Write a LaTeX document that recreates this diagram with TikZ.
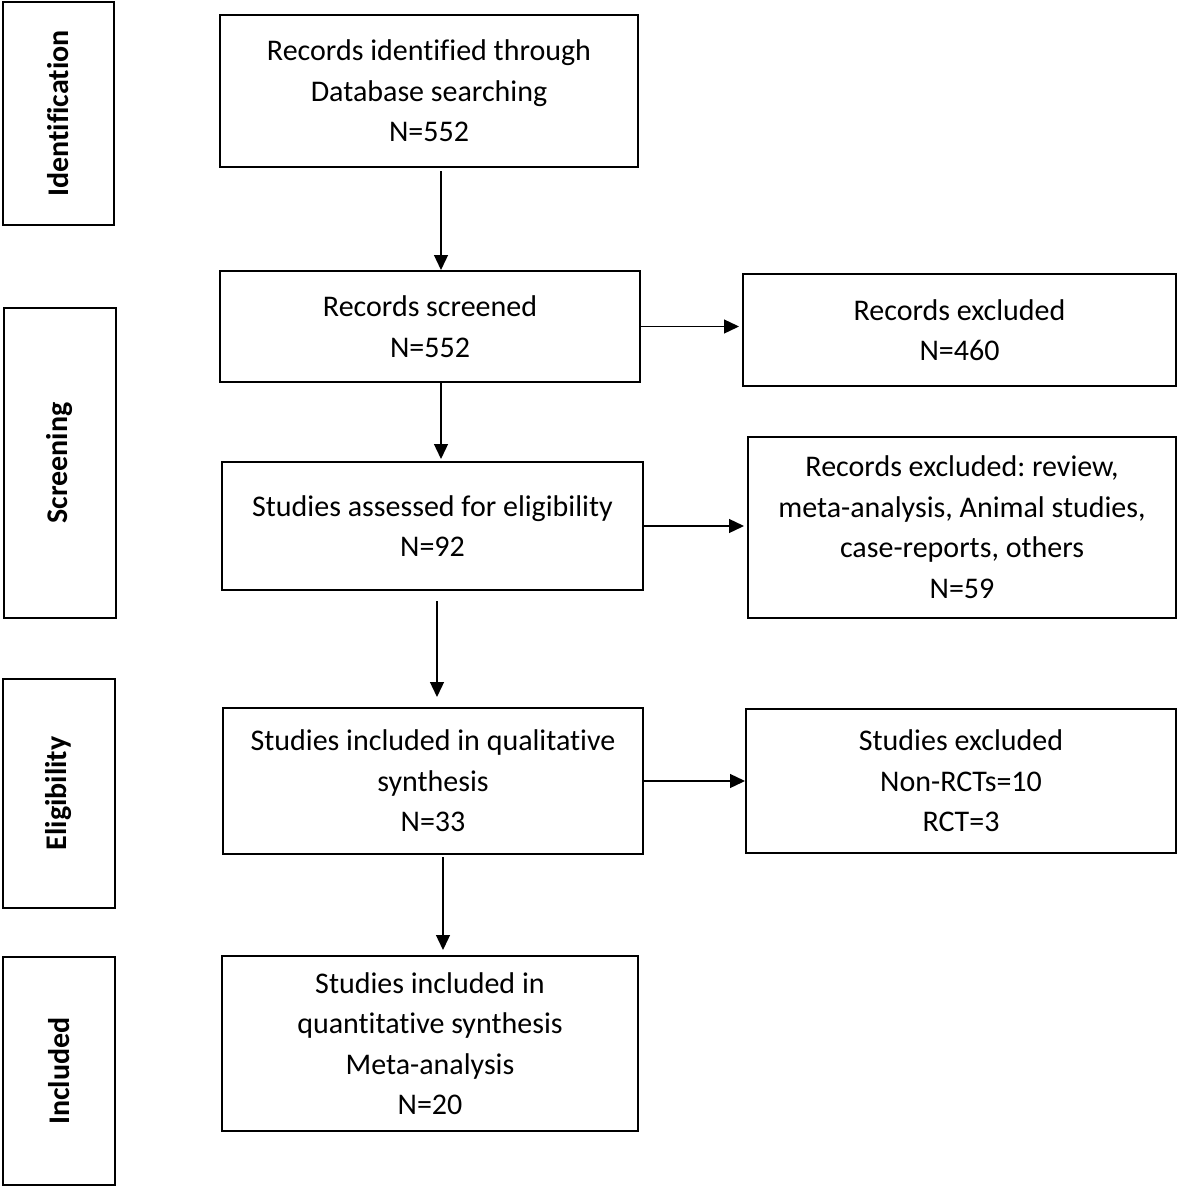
\documentclass[tikz,border=0pt]{standalone}
\usepackage{fontspec}
\setmainfont{Carlito}[Ligatures=NoCommon]
\frenchspacing
\usetikzlibrary{arrows.meta,calc}
\begin{document}
\begin{tikzpicture}[x=1pt,y=-1pt,
  mainbox/.style={draw=black,line width=2pt,align=center,inner sep=0pt,
    font=\fontsize{30}{40.5}\selectfont},
  stagebox/.style={draw=black,line width=2pt,inner sep=0pt},
  stagelabel/.style={rotate=90,font=\fontsize{30}{36}\selectfont\bfseries},
  conn/.style={line width=1.3pt,-{Triangle[length=15pt,width=14pt]}}]
\useasboundingbox (0,0) rectangle (1180,1188);
% stage boxes
\node[stagebox,minimum width=111pt,minimum height=223pt] (s1) at (58.5,113.5) {};
\node[stagelabel] (l1) at (s1.center) {Identification};
\node[stagebox,minimum width=112pt,minimum height=310pt] (s2) at (60,463) {};
\node[stagelabel] (l2) at (s2.center) {Screening};
\node[stagebox,minimum width=112pt,minimum height=229pt] (s3) at (59,793.5) {};
\node[stagelabel] (l3) at (s3.center) {Eligibility};
\node[stagebox,minimum width=112pt,minimum height=228pt] (s4) at (59,1071) {};
\node[stagelabel] (l4) at (s4.center) {Included};
% main boxes
\node[mainbox,minimum width=418pt,minimum height=152pt] (b1) at (429,91)
  {Records identified through\\Database searching\\N=552};
\node[mainbox,minimum width=420pt,minimum height=111pt] (b2) at (430,326.5)
  {Records screened\\N=552};
\node[mainbox,minimum width=421pt,minimum height=128pt] (b3) at (432.5,526)
  {Studies assessed for eligibility\\N=92};
\node[mainbox,minimum width=420pt,minimum height=146pt] (b4) at (433,781)
  {Studies included in qualitative\\synthesis\\N=33};
\node[mainbox,minimum width=416pt,minimum height=175pt] (b5) at (430,1043.5)
  {Studies included in\\quantitative synthesis\\Meta-analysis\\N=20};
% right boxes
\node[mainbox,minimum width=433pt,minimum height=112pt] (r1) at (959.5,330)
  {Records excluded\\N=460};
\node[mainbox,minimum width=428pt,minimum height=181pt] (r2) at (962,527)
  {Records excluded: review,\\meta-analysis, Animal studies,\\case-reports, others\\N=59};
\node[mainbox,minimum width=430pt,minimum height=144pt] (r3) at (961,781)
  {Studies excluded\\Non-RCTs=10\\RCT=3};
% vertical connectors
\draw[conn,shorten <=3pt] ([xshift=12pt]b1.south) -- ([xshift=12pt]b1.south |- b2.north);
\draw[conn,shorten >=2pt] ([xshift=11pt]b2.south) -- ([xshift=11pt]b2.south |- b3.north);
\draw[conn,shorten <=10pt,shorten >=10pt] ([xshift=4.5pt]b3.south) -- ([xshift=4.5pt]b3.south |- b4.north);
\draw[conn,shorten <=2pt,shorten >=5pt] ([xshift=10pt]b4.south) -- ([xshift=10pt]b4.south |- b5.north);
% horizontal connectors
\draw[conn,shorten >=3pt] (b2.east) -- (b2.east -| r1.west);
\draw[conn,shorten >=3pt] (b3.east) -- (b3.east -| r2.west);
\draw[conn] (b4.east) -- (b4.east -| r3.west);
\end{tikzpicture}
\end{document}
